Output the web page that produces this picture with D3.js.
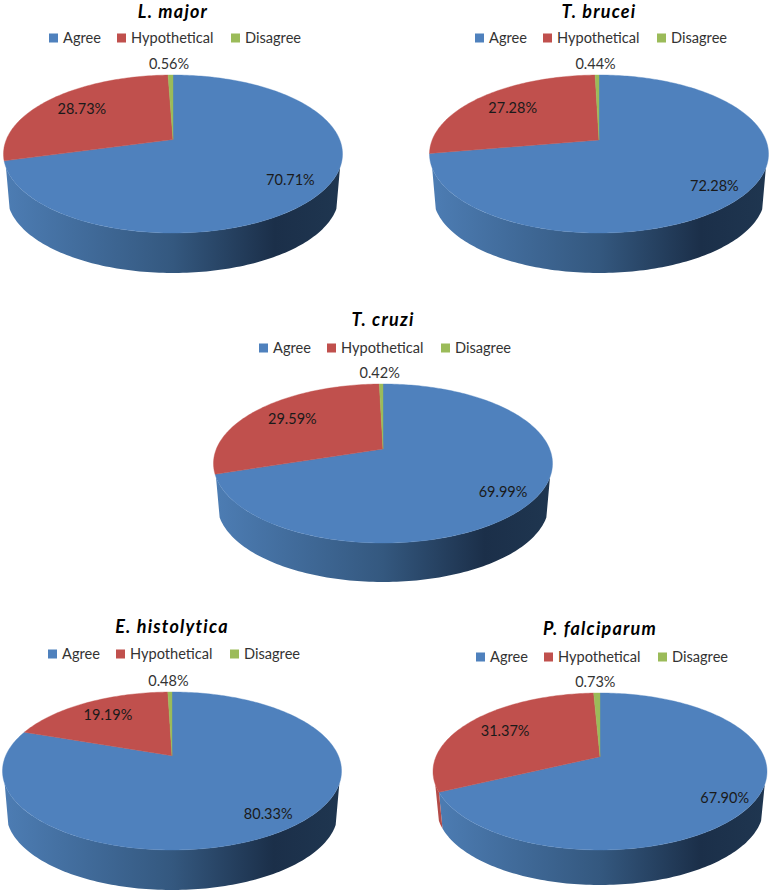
<!DOCTYPE html>
<html>
<head>
<meta charset="utf-8">
<title>Pie charts</title>
<script src="https://cdnjs.cloudflare.com/ajax/libs/d3/7.8.5/d3.min.js"></script>
<style>
  html, body { margin: 0; padding: 0; background: #fff; }
  svg { display: block; }
  text { font-family: Lato, "Open Sans", sans-serif; }
</style>
</head>
<body>
<svg id="chart" width="771" height="892"></svg>
<script>
// values
const categories = ['Agree', 'Hypothetical', 'Disagree'];
const organisms = ['L. major', 'T. brucei', 'T. cruzi', 'E. histolytica', 'P. falciparum'];
const agree = [70.71, 72.28, 69.99, 80.33, 67.90];
const hypothetical = [28.73, 27.28, 29.59, 19.19, 31.37];
const disagree = [0.56, 0.44, 0.42, 0.48, 0.73];

const colors = ['#4f81bd', '#c0504d', '#9bbb59'];
const wallStops = [
  ['#4d7db4', '#34587f', '#1b2f49', '#1f3650'],
  ['#b54c49', '#8a3a38', '#5e2725', '#662a28'],
  ['#93b154', '#6f853f', '#4b5a2b', '#51612e']
];

// where each pie sits: apex of the slices, top / front of the lid, foot of the wall
const cx = [173, 599, 383, 172, 600];
const apexY = [139.5, 140, 449, 755.7, 756.7];
const topY = [75, 75, 384, 692, 693];
const frontY = [233, 233, 543, 850, 850];
const footY = [273, 273, 582, 890, 885];
const titleY = [17.5, 17.5, 326, 633, 635];
const legendY = [38, 38, 348, 654, 657];
const halfWidth = [169.5, 169.5, 169.5, 169.5, 167];
const labelFraction = [0.8, 0.75];
// hand nudges for the two inside labels, [agree, hypothetical]
const nudgeX = [[1, 2], [3, 3], [2, 4], [8, 2], [4, 3.5]];
const nudgeY = [[0, 1], [3, 1], [3, 1], [1, 0], [6, 1]];
// only this part of the rim shows a wall
const wallFrom = 110 * Math.PI / 180;
const wallTo = 250 * Math.PI / 180;

const svg = d3.select('#chart');
const defs = svg.append('defs');

const pie = d3.pie().sort(null).value(d => d.value);
const rimLine = d3.line().x(d => d[0]).y(d => d[1]);

function makeProjection(i) {
  // a tilted disc: circle seen in perspective, so the apex is above the ellipse middle
  const up = apexY[i] - topY[i];
  const down = frontY[i] - apexY[i];
  const k = (down - up) / (down + up);
  const h = up * (1 + k);
  const r = halfWidth[i] * Math.sqrt(1 - k * k);
  return function(a, f) {
    const w = 1 + k * Math.cos(a) * f;
    return [cx[i] + r * f * Math.sin(a) / w, apexY[i] - h * f * Math.cos(a) / w];
  };
}

function sampleAngles(a0, a1) {
  const n = Math.max(2, Math.ceil((a1 - a0) / 0.02));
  return d3.range(n + 1).map(j => a0 + (a1 - a0) * j / n);
}

organisms.forEach(function(name, i) {
  const values = [agree[i], hypothetical[i], disagree[i]];
  const slices = pie(values.map((v, s) => ({ value: v, name: categories[s], series: s })));
  const project = makeProjection(i);
  const g = svg.append('g');

  // gradients for the side wall
  const shrink = 0.978;
  const drop = footY[i] - (apexY[i] + (frontY[i] - apexY[i]) * shrink);
  colors.forEach(function(c, s) {
    const grad = defs.append('linearGradient')
      .attr('id', 'wall' + i + '_' + s)
      .attr('gradientUnits', 'userSpaceOnUse')
      .attr('x1', cx[i] - halfWidth[i]).attr('x2', cx[i] + halfWidth[i])
      .attr('y1', 0).attr('y2', 0);
    [0, 0.5, 0.8, 1].forEach((o, j) => grad.append('stop').attr('offset', o).attr('stop-color', wallStops[s][j]));
  });

  function lower(a) {
    const p = project(a, 1);
    return [cx[i] + (p[0] - cx[i]) * shrink, apexY[i] + (p[1] - apexY[i]) * shrink + drop];
  }

  // walls first, lid goes over them
  slices.forEach(function(d) {
    const a0 = Math.max(d.startAngle, wallFrom);
    const a1 = Math.min(d.endAngle, wallTo);
    if (a1 <= a0) return;
    const angles = sampleAngles(a0, a1);
    const pts = angles.map(a => project(a, 1)).concat(angles.slice().reverse().map(lower));
    g.append('path')
      .attr('d', rimLine(pts) + 'Z')
      .attr('fill', 'url(#wall' + i + '_' + d.data.series + ')');
  });
  slices.forEach(function(d) {
    const rim = sampleAngles(d.startAngle, d.endAngle).map(a => project(a, 1));
    g.append('path')
      .attr('d', rimLine([[cx[i], apexY[i]]].concat(rim)) + 'Z')
      .attr('fill', colors[d.data.series])
      .attr('stroke', colors[d.data.series])
      .attr('stroke-width', 0.4);
  });

  // percent labels
  slices.forEach(function(d) {
    const mid = (d.startAngle + d.endAngle) / 2;
    const s = d.data.series;
    const p = s < 2 ? project(mid, labelFraction[s]) : project(mid, 1);
    g.append('text')
      .attr('x', s < 2 ? p[0] + nudgeX[i][s] : p[0] - 1.5)
      .attr('y', s < 2 ? p[1] + nudgeY[i][s] : p[1] - 11.5)
      .attr('dy', '0.35em')
      .attr('text-anchor', 'middle')
      .attr('font-size', 14.5)
      .attr('fill', s < 2 ? '#1a1a1a' : '#333')
      .text(d.data.value.toFixed(2) + '%');
  });

  // title
  g.append('text')
    .attr('x', cx[i])
    .attr('y', titleY[i])
    .attr('text-anchor', 'middle')
    .attr('font-size', 18)
    .attr('letter-spacing', 1.2)
    .attr('font-weight', 700)
    .attr('font-style', 'italic')
    .attr('fill', '#000')
    .text(name);

  // legend
  const legendX = d3.scaleOrdinal().domain(categories).range([-124, -56, 58]);
  const legend = g.selectAll('g.legend').data(categories).enter().append('g')
    .attr('class', 'legend')
    .attr('transform', d => 'translate(' + (cx[i] + legendX(d)) + ',' + legendY[i] + ')');
  legend.append('rect')
    .attr('y', -4.5).attr('width', 9).attr('height', 9)
    .attr('fill', (d, s) => colors[s]);
  legend.append('text')
    .attr('x', 14).attr('dy', '0.35em')
    .attr('font-size', 14.6)
    .attr('fill', '#333')
    .text(d => d);
});
</script>
</body>
</html>
